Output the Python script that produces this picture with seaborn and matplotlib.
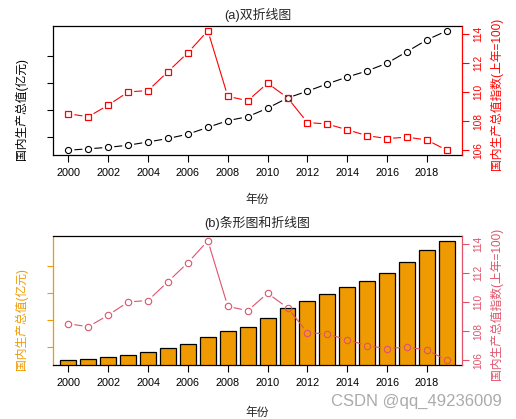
import matplotlib
matplotlib.use('Agg')
import matplotlib.pyplot as plt
import seaborn as sns
import numpy as np

# ---------------- data ----------------
years = list(range(2000, 2020))
gdp = [100280, 110863, 121717, 137422, 161840, 187319, 219439, 270232, 319516, 349081,
       412119, 487940, 538580, 592963, 643563, 688858, 746395, 832036, 919281, 986515]
gdp_index = [108.5, 108.3, 109.1, 110.0, 110.1, 111.4, 112.7, 114.2, 109.7, 109.4,
             110.6, 109.6, 107.9, 107.8, 107.4, 107.0, 106.8, 106.9, 106.7, 106.0]
left_ticks = [200000, 400000, 600000, 800000]
right_ticks = [106, 108, 110, 112, 114]
x_ticks = list(range(2000, 2020, 2))
titles = ['(a)双折线图', '(b)条形图和折线图']
xlabel = '年份'
ylabel_left = '国内生产总值(亿元)'
ylabel_right = '国内生产总值指数(上年=100)'
watermark = 'CSDN @qq_49236009'

# ---------------- style ----------------
sns.set_style('white')
plt.rcParams['font.family'] = ['Liberation Sans', 'Noto Sans CJK SC']

RED = '#FF0000'
ORANGE = '#EE9A00'
PINK = '#DF536B'

W, H = 516, 419
fig = plt.figure(figsize=(W / 100, H / 100), dpi=100)


def box(l, t, r, b):
    return [l / W, 1 - b / H, (r - l) / W, (b - t) / H]


def rlim(v):
    lo, hi = min(v), max(v)
    s = hi - lo
    return lo - 0.04 * s, hi + 0.04 * s


def gapped_line(ax, xs, ys, gap_px, **kw):
    T = ax.transData
    inv = T.inverted()
    pts = T.transform(np.column_stack([xs, ys]))
    for p0, p1 in zip(pts[:-1], pts[1:]):
        d = p1 - p0
        L = np.hypot(*d)
        if L <= 2 * gap_px:
            continue
        u = d / L
        a = inv.transform(p0 + u * gap_px)
        b = inv.transform(p1 - u * gap_px)
        ax.plot([a[0], b[0]], [a[1], b[1]], solid_capstyle='butt', **kw)


xlim = (years[0] - 0.04 * (years[-1] - years[0]), years[-1] + 0.04 * (years[-1] - years[0]))

ax1 = fig.add_axes(box(53.3, 26, 462, 155))
ax3 = fig.add_axes(box(53.3, 236, 462, 365))


def style_axes(ax, axr, left_color, right_color, title, xlab_y, title_y):
    ax.set_xlim(*xlim)
    ax.set_ylim(*rlim(gdp))
    axr.set_ylim(*rlim(gdp_index))
    ax.set_xticks(x_ticks)
    ax.set_xticklabels([str(t) for t in x_ticks], fontsize=7.8)
    ax.set_yticks(left_ticks)
    ax.set_yticklabels([])
    ax.tick_params(axis='x', direction='out', length=5, width=0.8, bottom=True,
                   pad=4.5, colors='black')
    ax.tick_params(axis='y', direction='out', length=4.5, width=0.8, left=True,
                   color=left_color)
    axr.set_yticks(right_ticks)
    axr.set_yticklabels([str(t) for t in right_ticks], rotation=90, va='center',
                        fontsize=7.3, color=right_color)
    axr.tick_params(axis='y', direction='out', length=5, width=0.8, right=True,
                    color=right_color, pad=3)
    for s in ['top', 'bottom', 'left', 'right']:
        ax.spines[s].set_linewidth(0.9)
        ax.spines[s].set_color('black')
        axr.spines[s].set_visible(False)
    ax.spines['left'].set_color(left_color)
    ax.spines['right'].set_visible(False)
    axr.spines['right'].set_visible(True)
    axr.spines['right'].set_color(right_color)
    axr.spines['right'].set_linewidth(0.9)
    ax.set_title(title, fontsize=9.3, y=title_y, pad=0, va='center')
    ax.set_xlabel(xlabel, fontsize=8.5)
    ax.xaxis.set_label_coords(0.5, xlab_y)
    ax.xaxis.label.set_va('center')
    ax.set_ylabel(ylabel_left, fontsize=8.5, color=left_color)
    ax.yaxis.set_label_coords(-0.079, 0.36)
    ax.yaxis.label.set_va('center')
    axr.set_ylabel(ylabel_right, fontsize=8.5, color=right_color, rotation=90)
    axr.yaxis.set_label_coords(1.085, 0.475)
    axr.yaxis.label.set_va('center')


# ---------------- panel (a) ----------------
sns.lineplot(x=years, y=gdp, ax=ax1, marker='o', linestyle='none', markersize=4.4,
             markerfacecolor='none', markeredgecolor='black', markeredgewidth=0.8,
             color='black')
ax2 = ax1.twinx()
sns.lineplot(x=years, y=gdp_index, ax=ax2, marker='s', linestyle='none', markersize=4.8,
             markerfacecolor='none', markeredgecolor=RED, markeredgewidth=0.9,
             color=RED)
style_axes(ax1, ax2, 'black', RED, titles[0], -0.349, 1.085)
gapped_line(ax1, years, gdp, 6, color='black', lw=0.8)
gapped_line(ax2, years, gdp_index, 6, color=RED, lw=0.8)

# ---------------- panel (b) ----------------
sns.barplot(x=years, y=gdp, ax=ax3, native_scale=True, color=ORANGE, saturation=1,
            edgecolor='black', linewidth=0.9, width=0.8, errorbar=None)
ax4 = ax3.twinx()
sns.lineplot(x=years, y=gdp_index, ax=ax4, marker='o', linestyle='none', markersize=4.6,
             markerfacecolor='none', markeredgecolor=PINK, markeredgewidth=0.8,
             color=PINK)
style_axes(ax3, ax4, ORANGE, PINK, titles[1], -0.372, 1.098)
gapped_line(ax4, years, gdp_index, 6, color=PINK, lw=0.8)

fig.text(416 / W, 1 - 401.7 / H, watermark, color='#ABABAB', fontsize=12,
         ha='center', va='center', family=['Liberation Sans'])

fig.savefig('out.png', dpi=100)
